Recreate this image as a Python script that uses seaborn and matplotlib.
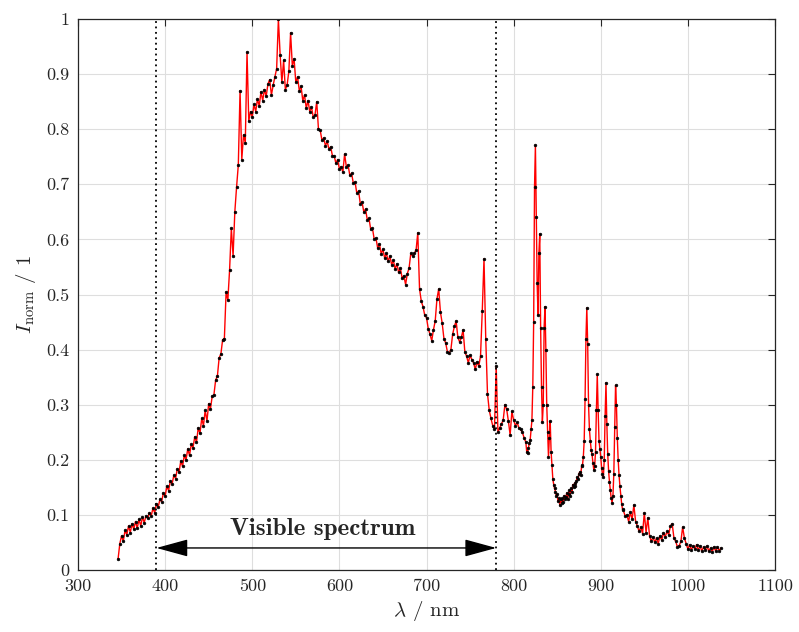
import numpy as np
import pandas as pd
import matplotlib
matplotlib.use("Agg")
import matplotlib.pyplot as plt
import seaborn as sns

# ---------------- data ----------------
# segment A: 346 .. 814 nm, 2 nm step
wl_a_start, wl_a_step = 346, 2
int_uv = [0.020, 0.048, 0.062, 0.052, 0.072, 0.064, 0.080, 0.068, 0.084, 0.074,
          0.088, 0.076, 0.092, 0.080, 0.096, 0.086, 0.098, 0.094, 0.104, 0.098,
          0.112, 0.104, 0.120, 0.114, 0.128, 0.124, 0.140, 0.134, 0.152, 0.144,
          0.162, 0.156, 0.172, 0.166, 0.184, 0.178, 0.198, 0.188, 0.208, 0.200,
          0.220, 0.208, 0.228, 0.222, 0.242, 0.232, 0.258, 0.248, 0.275, 0.262,
          0.290, 0.270, 0.302, 0.292, 0.315, 0.318, 0.345, 0.352, 0.385, 0.392,
          0.418, 0.420]                       # 346 .. 468
int_blue_green = [0.505, 0.490, 0.545, 0.620, 0.570, 0.650, 0.695, 0.735, 0.870, 0.745,
                  0.790, 0.775, 0.940, 0.815, 0.832, 0.822, 0.845, 0.832, 0.855, 0.842,
                  0.868, 0.852, 0.872, 0.860, 0.882, 0.890, 0.862, 0.880, 0.895, 0.910,
                  1.000, 0.935, 0.885, 0.925, 0.872, 0.880, 0.905, 0.975, 0.915, 0.928,
                  0.885, 0.895, 0.870, 0.878, 0.852, 0.862, 0.838, 0.852, 0.832, 0.840,
                  0.822, 0.826, 0.850, 0.800, 0.798, 0.780, 0.784, 0.770, 0.778, 0.764,
                  0.768, 0.752, 0.752, 0.738, 0.745, 0.728]   # 470 .. 600
int_orange_red = [0.732, 0.722, 0.755, 0.732, 0.735, 0.716, 0.720, 0.702, 0.704, 0.684,
                  0.688, 0.665, 0.668, 0.650, 0.655, 0.636, 0.638, 0.618, 0.620, 0.600,
                  0.602, 0.584, 0.592, 0.574, 0.582, 0.566, 0.575, 0.560, 0.570, 0.554,
                  0.562, 0.546, 0.556, 0.540, 0.548, 0.530, 0.534, 0.518, 0.538, 0.548,
                  0.575, 0.570, 0.575, 0.580, 0.612, 0.510, 0.488, 0.478, 0.462, 0.458,
                  0.438, 0.428, 0.416, 0.436, 0.452, 0.492, 0.510, 0.468, 0.448, 0.420,
                  0.412, 0.396, 0.394, 0.400, 0.428, 0.442, 0.452, 0.422, 0.414, 0.422,
                  0.436, 0.396, 0.388, 0.376, 0.390, 0.382, 0.376, 0.364, 0.378, 0.370,
                  0.388, 0.470, 0.565, 0.420, 0.320, 0.290, 0.275, 0.262, 0.255, 0.370,
                  0.250, 0.258, 0.265, 0.272, 0.300, 0.292, 0.270, 0.245, 0.288, 0.272,
                  0.262, 0.268, 0.258, 0.255, 0.250, 0.240, 0.232]   # 602 .. 814
# segment B: 815 .. 925 nm, 1 nm step (emission lines)
wl_b_start, wl_b_step = 815, 1
int_nir_lines = [0.215, 0.212, 0.222, 0.230, 0.236, 0.255, 0.272, 0.333, 0.450, 0.696,
                 0.771, 0.640, 0.520, 0.462, 0.575, 0.610, 0.440, 0.333, 0.268, 0.300,
                 0.440, 0.478, 0.400, 0.300, 0.250, 0.205, 0.240, 0.270, 0.215, 0.190,
                 0.165, 0.155, 0.148, 0.142, 0.135, 0.138, 0.125, 0.130, 0.118, 0.128,
                 0.122, 0.130, 0.124, 0.135, 0.128, 0.132, 0.140, 0.128, 0.138, 0.145,
                 0.135, 0.148, 0.142, 0.155, 0.150, 0.158, 0.152, 0.162, 0.168, 0.165,
                 0.175, 0.178, 0.172, 0.188, 0.190, 0.205, 0.235, 0.310, 0.420, 0.476,
                 0.410, 0.300, 0.255, 0.235, 0.218, 0.210, 0.195, 0.182, 0.188, 0.215,
                 0.290, 0.355, 0.290, 0.235, 0.220, 0.205, 0.185, 0.175, 0.168, 0.200,
                 0.280, 0.340, 0.265, 0.210, 0.180, 0.160, 0.145, 0.130, 0.122, 0.135,
                 0.175, 0.260, 0.335, 0.300, 0.240, 0.200, 0.172, 0.152, 0.135, 0.120,
                 0.110]
# segment C: 926 .. 1038 nm, 2 nm step
wl_c_start, wl_c_step = 926, 2
int_nir_tail = [0.108, 0.098, 0.100, 0.088, 0.105, 0.092, 0.118, 0.088, 0.080, 0.070,
                0.078, 0.066, 0.104, 0.068, 0.095, 0.062, 0.052, 0.060, 0.050, 0.058,
                0.048, 0.062, 0.054, 0.068, 0.060, 0.070, 0.064, 0.080, 0.084, 0.058,
                0.052, 0.042, 0.044, 0.052, 0.078, 0.058, 0.048, 0.038, 0.046, 0.036,
                0.044, 0.038, 0.046, 0.036, 0.044, 0.034, 0.042, 0.036, 0.044, 0.034,
                0.040, 0.033, 0.042, 0.034, 0.042, 0.035, 0.040]

visible_limits = [390, 780]
visible_label = "Visible spectrum"
xticks = [300, 400, 500, 600, 700, 800, 900, 1000, 1100]
yticks = [0, 0.1, 0.2, 0.3, 0.4, 0.5, 0.6, 0.7, 0.8, 0.9, 1]
ytick_labels = ["0", "0.1", "0.2", "0.3", "0.4", "0.5", "0.6", "0.7", "0.8", "0.9", "1"]

# ---------------- build table ----------------
seg_a = int_uv + int_blue_green + int_orange_red
wl = np.concatenate([
    wl_a_start + wl_a_step * np.arange(len(seg_a)),
    wl_b_start + wl_b_step * np.arange(len(int_nir_lines)),
    wl_c_start + wl_c_step * np.arange(len(int_nir_tail)),
])
inten = np.array(seg_a + int_nir_lines + int_nir_tail)
df = pd.DataFrame({"wl": wl, "I": inten})

# ---------------- style ----------------
sns.set_theme(style="white")
plt.rcParams["font.family"] = ["cmr10", "DejaVu Serif"]
plt.rcParams["mathtext.fontset"] = "cm"
plt.rcParams["axes.formatter.use_mathtext"] = True

fig = plt.figure(figsize=(7.99, 6.32), dpi=100)
ax = fig.add_axes([78 / 799, 62 / 632, 697 / 799, 551 / 632])

sns.lineplot(data=df, x="wl", y="I", ax=ax, estimator=None, sort=True,
             color="red", linewidth=1.0, marker=".", markersize=4.0,
             markerfacecolor="black", markeredgecolor="black", markeredgewidth=0.4)

for v in visible_limits:
    ax.axvline(v, color="black", linestyle=(0, (1, 2)), linewidth=1.3)

ax.annotate("", xy=(visible_limits[0], 0.04), xytext=(visible_limits[1], 0.04),
            arrowprops=dict(arrowstyle="<|-|>,head_length=1.1,head_width=0.3",
                            color="black", lw=1.0,
                            mutation_scale=18, shrinkA=0, shrinkB=0))
ax.text(sum(visible_limits) / 2 - 4, 0.074, visible_label, ha="center", va="center",
        fontsize=18, family=["cmb10", "DejaVu Serif"])

ax.set_xlim(300, 1100)
ax.set_ylim(0, 1)
ax.set_xticks(xticks)
ax.set_xticklabels([str(t) for t in xticks])
ax.set_yticks(yticks)
ax.set_yticklabels(ytick_labels)
ax.grid(True, color="#dedede", linewidth=0.8)
ax.set_axisbelow(True)
ax.tick_params(direction="in", length=5, width=0.8, top=True, right=True,
               labelsize=13, colors="#262626", pad=6)
for s in ax.spines.values():
    s.set_color("#262626")
    s.set_linewidth(0.9)
ax.set_xlabel(r"$\lambda$ / nm", fontsize=15, color="#262626", labelpad=4)
ax.set_ylabel(r"$I_\mathrm{norm}$ / 1", fontsize=15, color="#262626", labelpad=6)

fig.savefig("out.png", dpi=100)
